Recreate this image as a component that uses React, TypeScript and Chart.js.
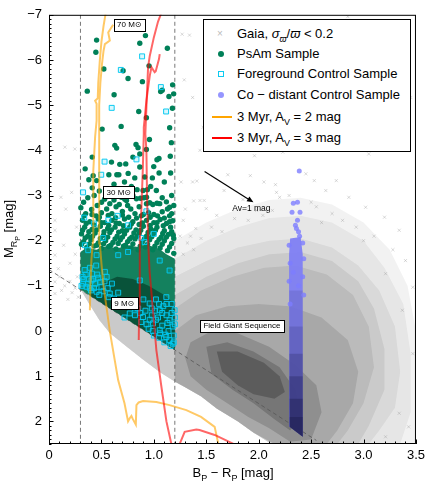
import React, { useEffect, useRef } from 'react';
import { Chart, registerables } from 'chart.js';
Chart.register(...registerables);

type P = [number, number];

const xTickValues = [0, 0.5, 1, 1.5, 2, 2.5, 3, 3.5];
const yTickValues = [-7, -6, -5, -4, -3, -2, -1, 0, 1, 2];

// Gaia field stars: nested density contours (outer -> core) plus sparse individual stars
const bandEdge: P[] = [[1.2,1.12],[1.06,0.92],[0.9,0.64],[0.74,0.35],[0.58,0.05],[0.48,-0.24],[0.39,-0.57],[0.3,-0.92],[1.2,0.42]];
const lowerEdge: P[] = [[2.12,2.5],[1.95,2.25],[1.8,2.0],[1.6,1.72],[1.45,1.45],[1.3,1.25]];
const gaiaLevel1: P[] = [[1.2,-2.0],[1.5,-2.4],[1.8,-2.7],[2.1,-2.9],[2.4,-2.95],[2.7,-2.8],[3.0,-2.4],[3.25,-1.8],[3.42,-1.0],[3.5,0],[3.5,2.5]];
const gaiaLevel2: P[] = [[1.2,-1.6],[1.5,-2.0],[1.8,-2.3],[2.1,-2.5],[2.4,-2.55],[2.7,-2.4],[3.0,-2.0],[3.2,-1.4],[3.38,-0.6],[3.45,0.5],[3.45,1.8],[3.35,2.5]];
const gaiaLevel3: P[] = [[1.2,-1.2],[1.5,-1.55],[1.8,-1.85],[2.1,-2.0],[2.4,-2.05],[2.7,-1.85],[2.95,-1.45],[3.15,-0.9],[3.3,-0.1],[3.35,0.9],[3.3,1.7],[3.15,2.2],[3.05,2.5]];
const gaiaLevel4: P[] = [[1.2,-0.8],[1.5,-1.2],[1.8,-1.5],[2.1,-1.7],[2.4,-1.75],[2.7,-1.55],[2.95,-1.1],[3.1,-0.5],[3.2,0.4],[3.2,1.3],[3.05,2.1],[2.95,2.5]];
const gaiaLevel5: P[] = [[1.2,-0.5],[1.45,-0.9],[1.75,-1.2],[2.05,-1.4],[2.35,-1.45],[2.65,-1.25],[2.9,-0.8],[3.05,-0.1],[3.1,0.8],[3.0,1.6],[2.85,2.2],[2.75,2.5],[2.15,2.5],[1.95,2.25],[1.8,2.0],[1.6,1.72],[1.45,1.45],[1.3,1.25],[1.2,1.12],[1.2,0.42]];
const gaiaLevel6: P[] = [[1.2,0.0],[1.4,-0.35],[1.7,-0.55],[2.0,-0.6],[2.3,-0.55],[2.6,-0.3],[2.85,0.2],[2.95,0.9],[2.9,1.6],[2.75,2.2],[2.65,2.5],[2.15,2.5],[1.95,2.25],[1.8,2.0],[1.6,1.72],[1.45,1.45],[1.3,1.25],[1.2,1.12]];
const gaiaLevel7: P[] = [[1.35,0.25],[1.55,0.0],[1.8,0.05],[2.1,0.35],[2.35,0.75],[2.55,1.2],[2.6,1.8],[2.5,2.4],[2.3,2.45],[2.1,2.15],[1.9,1.9],[1.7,1.6],[1.5,1.3],[1.35,1.0],[1.3,0.6]];
const gaiaLevel8: P[] = [[1.5,0.35],[1.7,0.25],[1.95,0.45],[2.2,0.8],[2.35,1.3],[2.4,1.9],[2.3,2.2],[2.15,1.95],[1.95,1.6],[1.75,1.3],[1.55,0.95]];
const gaiaLevel9: P[] = [[1.6,0.45],[1.8,0.45],[2.05,0.7],[2.2,1.0],[2.25,1.35],[2.15,1.5],[1.95,1.4],[1.8,1.2],[1.65,0.9]];
const gaiaSparse: P[] = [[0.114,-2.96],[0.216,-3.07],[0.16,-2.7],[0.057,-2.23],[0.263,-2.3],[0.152,-4.07],[0.247,-4.03],[0.057,-2.45],[0.057,-1.68],[0.057,-1.09],[0.057,-0.83],[0.089,-1.38],[0.1,-1.2],[0.15,-1.0],[0.2,-1.1],[0.22,-0.85],[0.25,-0.95],[0.18,-0.7],[0.12,-0.9],[0.27,-1.2],[0.2,-1.5],[0.25,-1.7],[0.14,-1.9],[0.28,-0.75],
[1.27,-6.57],[1.34,-6.55],[1.29,-5.56],[1.37,-5.17],[1.47,-4.51],[1.52,-4.35],[1.44,-4.0],[1.26,-3.3],[1.37,-3.3],[1.44,-2.89],[1.5,-2.71],[1.28,-2.45],[1.4,-2.27],[1.25,-2.1],[1.32,-1.95],[1.3,-2.7],[1.35,-2.1],[1.45,-2.05],[1.28,-1.7],[1.38,-1.8],
[1.96,-3.88],[2.23,-3.96],[3.05,-3.92],[2.85,-6.96],[3.45,-5.17],
[1.706,-3.46],[1.92,-3.44],[2.05,-3.3],[2.16,-3.24],[2.17,-3.07],[1.41,-3.32],[1.67,-3.11],[1.85,-2.91],[1.38,-2.88],[1.48,-2.89],[1.98,-2.67],[2.04,-2.56],[2.29,-3.0],[1.6,-2.56],[1.77,-2.49],[2.13,-2.67],
[2.45,-3.48],[2.53,-3.33],[2.64,-3.11],[2.74,-3.33],[2.86,-2.96],[3.02,-2.74],[3.2,-2.52],[3.34,-2.23],[2.93,-2.3],[3.4,-1.56],[3.21,-1.27],[3.47,-0.97],[3.37,-0.46],[3.47,0.5],[3.34,1.82],[3.43,2.12],[3.21,2.34],[2.2,-2.96],[2.55,-2.75],[2.7,-2.6],[3.1,-2.1],[3.28,-1.8],[2.5,-2.85],[1.55,-2.3],[1.65,-2.2],[1.9,-2.45],[2.6,-2.4],[2.8,-2.45],[3.0,-2.0]];

// PsAm sample: dense region polygons plus individual stars
const psamDense: P[] = [[0.3,-0.92],[0.3,-1.75],[0.36,-1.85],[0.45,-1.8],[0.55,-1.88],[0.65,-1.83],[0.75,-1.9],[0.85,-1.86],[0.95,-1.9],[1.05,-1.82],[1.12,-1.7],[1.2,-1.6],[1.2,0.42]];
const psamCore: P[] = [[0.38,-0.8],[0.5,-1.05],[0.65,-1.2],[0.8,-1.15],[0.95,-1.0],[1.1,-0.8],[1.2,-0.6],[1.2,0.42]];
const psamStars: P[] = [[0.454,-6.44],[0.447,-6.17],[0.523,-5.8],[0.365,-5.31],[0.621,-5.23],[0.507,-4.47],[0.688,-4.53],[0.628,-4.11],[0.645,-4.05],[0.412,-3.85],[0.596,-3.74],[0.345,-3.59],[0.675,-3.69],[0.732,-3.7],
[0.92,-6.54],[0.866,-6.37],[1.129,-6.26],[0.954,-5.87],[0.754,-5.59],[0.707,-5.76],[0.891,-5.52],[1.179,-5.45],[1.189,-5.25],[1.065,-5.3],[1.08,-5.33],[1.144,-5.19],[1.177,-4.93],[0.856,-4.86],[0.929,-4.72],[0.958,-4.24],[0.83,-4.13],[0.849,-4.06],[1.167,-4.17],[1.151,-4.5],[1.157,-3.87],[1.049,-3.82],[1.03,-3.79],[0.929,-4.02],[0.866,-3.92],[0.8,-3.85],[0.866,-3.63],[0.999,-3.64],
[0.421,-3.44],[0.454,-3.33],[0.571,-3.46],[0.647,-3.46],[0.913,-3.41],[0.938,-3.13],[0.897,-3.11],[0.84,-3.13],[0.872,-2.94],[0.675,-3.07],[0.786,-3.2],[0.723,-2.92],[0.666,-3.46],[0.755,-3.49],[0.818,-3.39],[0.986,-3.39],[0.412,-3.17],[0.431,-3.0],[0.501,-2.85],[0.834,-2.93],[0.905,-2.95],[0.93,-2.96],[1.024,-3.11],[1.056,-2.82],[1.151,-2.74],[0.739,-2.89],[0.69,-2.96],[0.93,-2.82],[0.96,-2.84],[0.99,-2.8],[1.03,-2.83],[1.12,-2.86],[1.19,-2.78],[0.406,-2.69],[0.304,-2.73],[0.55,-2.7],[0.6,-2.6],[0.64,-2.75],[0.7,-2.65],[0.78,-2.7],[0.82,-2.6],[0.88,-2.55],[0.95,-2.62],[1.0,-2.58],[1.08,-2.64],[1.15,-2.55],[0.35,-2.6],[0.45,-2.55],[0.5,-2.62],
[0.33,-2.85],[0.37,-2.95],[0.46,-2.78],[0.53,-2.92],[0.58,-2.82],[0.62,-2.9],[0.67,-2.8],[0.75,-2.78],[0.8,-3.0],[0.86,-2.75],[1.08,-2.95],[1.13,-2.7],[1.17,-3.0],[0.48,-3.1],[0.56,-3.15],[0.62,-3.25],[0.97,-3.2],[1.1,-3.3],[1.16,-3.5],[0.38,-3.35],[0.72,-3.3],[1.05,-3.5],
[0.335,-2.55],[0.41,-2.58],[0.48,-2.52],[0.565,-2.56],[0.635,-2.51],[0.7,-2.57],[0.76,-2.52],[0.835,-2.5],[0.9,-2.58],[0.965,-2.52],[1.035,-2.55],[1.1,-2.5],[1.17,-2.6],
[0.32,-2.45],[0.39,-2.42],[0.47,-2.48],[0.53,-2.4],[0.6,-2.45],[0.67,-2.38],[0.72,-2.48],[0.8,-2.42],[0.86,-2.36],[0.93,-2.45],[1.0,-2.4],[1.06,-2.47],[1.12,-2.38],[1.18,-2.44],
[0.355,-2.38],[0.43,-2.35],[0.5,-2.4],[0.57,-2.34],[0.64,-2.39],[0.71,-2.33],[0.785,-2.37],[0.89,-2.39],[0.965,-2.34],[1.03,-2.4],[1.09,-2.33],[1.15,-2.42],
[0.34,-2.3],[0.41,-2.25],[0.49,-2.32],[0.56,-2.27],[0.63,-2.3],[0.7,-2.22],[0.77,-2.3],[0.83,-2.24],[0.9,-2.32],[0.97,-2.26],[1.03,-2.3],[1.1,-2.22],[1.16,-2.3],
[0.32,-2.23],[0.38,-2.2],[0.455,-2.24],[0.525,-2.2],[0.595,-2.24],[0.665,-2.19],[0.74,-2.23],[0.81,-2.17],[0.875,-2.23],[0.945,-2.18],[1.015,-2.23],[1.085,-2.16],[1.17,-2.2],
[0.31,-2.15],[0.37,-2.1],[0.44,-2.17],[0.52,-2.12],[0.58,-2.18],[0.65,-2.1],[0.72,-2.15],[0.79,-2.08],[0.86,-2.16],[0.93,-2.1],[1.0,-2.16],[1.07,-2.08],[1.14,-2.14],[1.19,-2.05],
[0.345,-2.06],[0.415,-2.1],[0.49,-2.05],[0.56,-2.08],[0.63,-2.04],[0.7,-2.08],[0.77,-2.04],[0.84,-2.1],[0.91,-2.04],[0.98,-2.09],[1.05,-2.03],[1.12,-2.08],[1.185,-2.12],
[0.33,-1.98],[0.4,-2.02],[0.47,-1.95],[0.54,-2.0],[0.61,-1.96],[0.68,-2.02],[0.75,-1.98],[0.82,-2.04],[0.89,-1.97],[0.96,-2.02],[1.03,-1.96],[1.1,-2.0],[1.17,-1.94],
[0.31,-1.92],[0.385,-1.93],[0.455,-1.9],[0.52,-1.93],[0.59,-1.9],[0.66,-1.94],[0.73,-1.9],[0.8,-1.93],[0.87,-1.88],[0.94,-1.92],[1.01,-1.88],[1.08,-1.92],[1.15,-1.86],
[0.36,-1.85],[0.43,-1.88],[0.5,-1.83],[0.57,-1.87],[0.64,-1.82],[0.71,-1.88],[0.78,-1.84],[0.85,-1.8],[0.92,-1.86],[0.99,-1.8],[1.06,-1.84],[1.13,-1.78],[1.19,-1.72]];

// Foreground control sample
const foreground: P[] = [[0.888,-6.08],[0.685,-5.78],[0.598,-4.94],[1.067,-5.4],[1.117,-4.86],[0.834,-3.8],[0.53,-3.75],[0.498,-3.46],[0.325,-3.07],[0.336,-2.51],[0.428,-2.38],[0.566,-2.46],[0.655,-2.55],[0.754,-2.34],[0.517,-2.06],[0.929,-2.65],[1.0,-2.15],[0.88,-2.06],[0.342,-1.9],[0.374,-1.79],[0.913,-1.97],[0.454,-1.68],[0.66,-1.68],[0.754,-1.75],[1.056,-1.56],[1.15,-1.34],[0.866,-1.12],[0.533,-1.31],[0.406,-1.12],[0.326,-1.05],[0.454,-0.87],[0.58,-0.83],[0.707,-0.61],[0.77,-0.39],[0.897,-0.31],[0.992,-0.17],[1.056,-0.02],[1.119,0.13],[1.18,0.28],[1.15,-0.24],[1.056,-0.46],[0.96,-0.61],[1.198,-0.46],[1.119,-0.75],
[0.32,-1.2],[0.35,-1.25],[0.38,-1.15],[0.41,-1.27],[0.44,-1.05],[0.47,-1.18],[0.5,-0.98],[0.53,-1.1],[0.36,-0.98],[0.4,-0.9],[0.48,-0.8],[0.56,-0.95],[0.6,-1.05],[0.62,-0.72],[0.66,-0.85],[0.68,-0.6],
[0.31,-1.0],[0.33,-1.15],[0.37,-1.05],[0.39,-0.95],[0.42,-1.15],[0.43,-0.95],[0.46,-1.25],[0.49,-1.08],[0.52,-0.88],[0.55,-1.2],[0.57,-0.75],[0.34,-1.35],[0.39,-1.4],[0.45,-1.45],
[0.85,-0.5],[0.88,-0.2],[0.92,-0.45],[0.95,-0.05],[0.98,-0.35],[1.0,0.1],[1.02,-0.25],[1.05,0.15],[1.08,-0.12],[1.1,0.25],[1.12,-0.35],[1.14,0.0],[1.16,0.33],[1.18,-0.1],[1.19,0.1],[1.17,-0.6],[1.2,-0.3],[1.09,-0.55],[1.02,-0.7],[0.9,-0.7],[0.82,-0.35],[0.72,-0.3],
[0.93,-0.15],[0.96,-0.25],[0.99,0.0],[1.01,-0.45],[1.04,-0.3],[1.06,0.05],[1.08,-0.4],[1.11,0.08],[1.13,-0.18],[1.15,0.2],[1.17,-0.4],[1.19,0.25],[1.2,-0.15],[1.12,-0.6],[1.05,-0.6],[0.98,-0.5],[0.87,-0.4],[0.82,-0.5]];

// Co-distant control sample: column of overlapping stars (darkening downwards) plus outliers
const codistantColumn: P[] = [[2.3,-2.05],[2.4,-2.08],[2.42,-1.7],[2.42,2.34],[2.295,2.12],[2.29,-1.7]];
const codistantShade1: P[] = [[2.292,-0.9],[2.42,-0.9],[2.42,2.34],[2.295,2.12]];
const codistantShade2: P[] = [[2.292,-0.1],[2.42,-0.1],[2.42,2.34],[2.295,2.12]];
const codistantShade3: P[] = [[2.292,0.5],[2.42,0.5],[2.42,2.34],[2.295,2.12]];
const codistantShade4: P[] = [[2.292,1.0],[2.42,1.0],[2.42,2.34],[2.295,2.12]];
const codistantShade5: P[] = [[2.295,1.5],[2.42,1.5],[2.42,2.34],[2.295,2.12]];
const codistantShade6: P[] = [[2.295,1.9],[2.42,1.9],[2.42,2.34],[2.295,2.12]];
const codistantStars: P[] = [[2.387,-3.54],[2.33,-2.83],[2.37,-2.85],[2.318,-2.63],[2.394,-2.63],[2.37,-2.45],[2.35,-2.34],[2.38,-2.2],[2.36,-2.27],[2.39,-2.1],[2.29,-1.9],[2.3,-1.5],[2.29,-1.1],[2.3,-0.6],[2.42,-1.95],[2.43,-1.6],[2.42,-1.2],[2.43,-0.8],[2.38,-1.0],[2.33,-1.3]];

// 3 Myr isochrones
const isoAv2Main: P[] = [[1.62,2.55],[1.58,2.12],[1.45,1.9],[1.31,1.75],[1.15,1.64],[1.024,1.57],[0.897,1.55],[0.855,1.58],[0.834,1.64],[0.828,2.07],[0.8,1.95],[0.786,1.88],[0.77,1.93],[0.754,2.0],[0.72,1.6],[0.66,1.09],[0.62,0.55],[0.58,0.0],[0.55,-0.5],[0.52,-1.0],[0.5,-1.5],[0.485,-1.94],[0.478,-2.5],[0.478,-3.55],[0.479,-4.66],[0.48,-5.0],[0.49,-5.5],[0.505,-5.9],[0.52,-6.2],[0.533,-6.35],[0.58,-6.43],[0.565,-6.61],[0.612,-6.78]];
const isoAv2Branch: P[] = [[0.39,-0.46],[0.395,-1.0],[0.405,-1.6],[0.42,-2.0],[0.42,-3.0],[0.425,-3.55],[0.44,-4.3],[0.454,-4.66],[0.454,-5.03],[0.44,-5.1],[0.465,-5.15],[0.47,-5.5],[0.485,-6.0],[0.5,-6.4],[0.52,-6.75],[0.545,-7.1]];
const isoAv3Main: P[] = [[1.78,2.55],[1.753,2.49],[1.58,2.3],[1.436,2.19],[1.405,2.18],[1.294,2.23],[1.246,2.5],[1.22,2.7],[1.19,2.7],[1.167,2.5],[1.12,2.0],[1.07,1.2],[1.024,0.42],[0.99,-0.5],[0.96,-1.3],[0.945,-2.0],[0.935,-3.0],[0.929,-4.0],[0.919,-4.36],[0.929,-4.95],[0.945,-5.84],[0.961,-6.09],[1.0,-6.5],[1.04,-6.85],[1.065,-7.0],[1.08,-7.2]];
const isoAv3Branch: P[] = [[0.856,0.2],[0.86,-0.5],[0.866,-1.2],[0.866,-2.0],[0.882,-2.74],[0.895,-3.6],[0.904,-4.36],[0.904,-4.51],[0.929,-5.1],[0.961,-5.65],[0.977,-5.84],[1.008,-5.73],[1.018,-5.75],[1.049,-6.02],[1.056,-6.13]];

// Selection cuts and giant sequence boundary
const cutLeft: P[] = [[0.3, -7], [0.3, 2.5]];
const cutRight: P[] = [[1.2, -7], [1.2, 2.5]];
const giantBoundary: P[] = [[0, -1.36], [2.55, 2.42]];

// Annotations
const boxLabels = ['70 M\u2299', '30 M\u2299', '9 M\u2299', 'Field Giant Sequence'];
const boxX = [0.766, 0.666, 0.718, 1.84];
const boxY = [-6.78, -3.08, -0.615, -0.118];
const arrowFrom: P = [1.484, -3.53];
const arrowTo: P = [1.95, -2.85];
const arrowLabel = 'Av=1 mag';
const arrowLabelPos: P = [1.93, -2.71];

const xy = (a: P[]) => a.map(([x, y]) => ({ x, y }));
const FONT = '"Liberation Sans", "DejaVu Sans", sans-serif';

const poly = (d: P[], color: string, order: number) => ({
  type: 'line', data: xy(d), showLine: true, fill: 'shape', backgroundColor: color,
  borderColor: 'rgba(0,0,0,0)', borderWidth: 0, pointRadius: 0, tension: 0, order,
});
const line = (d: P[], color: string, order: number, width = 2, dash: number[] = []) => ({
  type: 'line', data: xy(d), showLine: true, fill: false, borderColor: color, borderWidth: width,
  borderDash: dash, pointRadius: 0, tension: 0, order, clip: 0,
});

const decor = {
  id: 'decor',
  afterDatasetsDraw(chart: any) {
    const { ctx, chartArea: ca, scales } = chart;
    const xs = scales.x, ys = scales.y;
    ctx.save();
    const ax0 = xs.getPixelForValue(arrowFrom[0]), ay0 = ys.getPixelForValue(arrowFrom[1]);
    const ax1 = xs.getPixelForValue(arrowTo[0]), ay1 = ys.getPixelForValue(arrowTo[1]);
    const ang = Math.atan2(ay1 - ay0, ax1 - ax0);
    ctx.strokeStyle = '#000'; ctx.fillStyle = '#000'; ctx.lineWidth = 1.2;
    ctx.beginPath(); ctx.moveTo(ax0, ay0); ctx.lineTo(ax1 - 4 * Math.cos(ang), ay1 - 4 * Math.sin(ang)); ctx.stroke();
    ctx.beginPath(); ctx.moveTo(ax1, ay1);
    ctx.lineTo(ax1 - 7 * Math.cos(ang - 0.4), ay1 - 7 * Math.sin(ang - 0.4));
    ctx.lineTo(ax1 - 7 * Math.cos(ang + 0.4), ay1 - 7 * Math.sin(ang + 0.4));
    ctx.closePath(); ctx.fill();
    ctx.font = '8.5px ' + FONT; ctx.textAlign = 'center'; ctx.textBaseline = 'middle';
    ctx.fillText(arrowLabel, xs.getPixelForValue(arrowLabelPos[0]), ys.getPixelForValue(arrowLabelPos[1]));
    ctx.font = '8px ' + FONT;
    boxLabels.forEach((t, i) => {
      const cx = xs.getPixelForValue(boxX[i]), cy = ys.getPixelForValue(boxY[i]);
      const w = Math.round(ctx.measureText(t).width + 7), h = 12;
      const l = Math.round(cx - w / 2) + 0.5, tp = Math.round(cy - h / 2) + 0.5;
      ctx.fillStyle = '#fff'; ctx.fillRect(l, tp, w, h);
      ctx.strokeStyle = '#000'; ctx.lineWidth = 1; ctx.strokeRect(l, tp, w, h);
      ctx.fillStyle = '#000'; ctx.fillText(t, cx, cy + 0.5);
    });
    ctx.strokeStyle = '#000'; ctx.lineWidth = 1;
    ctx.strokeRect(ca.left + 0.5, ca.top + 0.5, ca.right - ca.left - 1, ca.bottom - ca.top - 1);
    ctx.beginPath();
    for (let i = 0; i <= 35; i++) {
      const px = Math.round(xs.getPixelForValue(i / 10)) + 0.5;
      const len = i % 5 === 0 ? 4.5 : 2.5;
      ctx.moveTo(px, ca.bottom); ctx.lineTo(px, ca.bottom - len);
    }
    for (let i = -70; i <= 25; i++) {
      const py = Math.round(ys.getPixelForValue(i / 10)) + 0.5;
      const len = i % 10 === 0 ? 4.5 : 2.5;
      ctx.moveTo(ca.left, py); ctx.lineTo(ca.left + len, py);
    }
    ctx.stroke();
    ctx.restore();
  },
};

const GREEN = 'rgb(0,128,88)';
const CYAN = 'rgba(0,200,240,0.95)';

export default function App() {
  const ref = useRef<HTMLCanvasElement>(null);
  useEffect(() => {
    if (!ref.current) return;
    const withBand = (top: P[]) => [...top, ...lowerEdge, ...bandEdge];
    const shade = (a: number) => 'rgba(15,15,60,' + a + ')';
    const datasets: any[] = [
      poly(withBand(gaiaLevel1), 'rgba(0,0,0,0.05)', 200),
      poly(withBand(gaiaLevel2), 'rgba(0,0,0,0.05)', 199),
      poly(withBand(gaiaLevel3), 'rgba(0,0,0,0.06)', 198),
      poly(withBand(gaiaLevel4), 'rgba(0,0,0,0.07)', 197),
      poly(gaiaLevel5, 'rgba(0,0,0,0.08)', 196),
      poly(gaiaLevel6, 'rgba(0,0,0,0.10)', 195),
      poly(gaiaLevel7, 'rgba(0,0,0,0.15)', 194),
      poly(gaiaLevel8, 'rgba(0,0,0,0.18)', 193),
      poly(gaiaLevel9, 'rgba(0,0,0,0.22)', 192),
      { type: 'scatter', data: xy(gaiaSparse), pointStyle: 'crossRot', pointRadius: 2.2, borderColor: 'rgba(150,150,150,0.35)', borderWidth: 1, backgroundColor: 'rgba(0,0,0,0)', order: 190 },
      line(cutLeft, '#555', 150, 0.8, [4, 3]),
      line(cutRight, '#555', 150, 0.8, [4, 3]),
      line(giantBoundary, '#555', 150, 0.8, [4, 3]),
      poly(psamDense, 'rgba(0,118,80,0.92)', 99),
      poly(psamCore, 'rgba(0,45,30,0.55)', 98),
      { type: 'scatter', data: xy(psamStars), pointStyle: 'circle', pointRadius: 2.7, backgroundColor: GREEN, borderWidth: 0, order: 90 },
      { type: 'scatter', data: xy(foreground), pointStyle: 'rect', pointRadius: 3.5, backgroundColor: 'rgba(0,200,240,0.15)', borderColor: CYAN, borderWidth: 1, order: 80 },
      poly(codistantColumn, 'rgba(125,125,245,0.92)', 70),
      poly(codistantShade1, shade(0.12), 69),
      poly(codistantShade2, shade(0.15), 68),
      poly(codistantShade3, shade(0.2), 67),
      poly(codistantShade4, shade(0.25), 66),
      poly(codistantShade5, shade(0.3), 65),
      poly(codistantShade6, shade(0.3), 64),
      { type: 'scatter', data: xy(codistantStars), pointStyle: 'circle', pointRadius: 2.5, backgroundColor: 'rgba(125,125,255,0.8)', borderWidth: 0, order: 60 },
      line(isoAv2Main, 'rgba(255,165,0,0.6)', 10),
      line(isoAv2Branch, 'rgba(255,165,0,0.6)', 10),
      line(isoAv3Main, 'rgba(255,0,0,0.6)', 9),
      line(isoAv3Branch, 'rgba(255,0,0,0.6)', 9),
    ];
    const tickFont = { family: FONT, size: 13 };
    const chart = new Chart(ref.current, {
      type: 'scatter',
      data: { datasets },
      options: {
        animation: false, responsive: false, maintainAspectRatio: false, events: [],
        layout: { padding: { left: 0, right: 12, top: 14, bottom: 0 } },
        plugins: { legend: { display: false }, tooltip: { enabled: false } },
        scales: {
          x: {
            type: 'linear', min: 0, max: 3.5,
            grid: { display: false, drawTicks: false }, border: { display: false },
            ticks: { font: tickFont, color: '#000', padding: 4, maxRotation: 0, autoSkip: false,
              callback: (v: any) => (v === 0 ? '0' : Number(v).toFixed(1)) },
            afterBuildTicks: (s: any) => { s.ticks = xTickValues.map((value) => ({ value })); },
            afterFit: (s: any) => { s.height = 45; },
          },
          y: {
            type: 'linear', min: -7, max: 2.5, reverse: true,
            grid: { display: false, drawTicks: false }, border: { display: false },
            ticks: { font: tickFont, color: '#000', padding: 7, autoSkip: false,
              callback: (v: any) => (v < 0 ? '\u2212' + Math.abs(v) : String(v)) },
            afterBuildTicks: (s: any) => { s.ticks = yTickValues.map((value) => ({ value })); },
            afterFit: (s: any) => { s.width = 49; },
          },
        },
      } as any,
      plugins: [decor],
    } as any);
    return () => chart.destroy();
  }, []);

  const rowTop = [14, 34, 54, 75, 97, 118];
  const text: React.CSSProperties = { position: 'absolute', left: 33, fontSize: 13, lineHeight: '16px', whiteSpace: 'nowrap', color: '#000' };
  return (
    <div style={{ position: 'absolute', left: 0, top: 0, width: 429, height: 489, fontFamily: FONT, background: '#fff' }}>
      <canvas ref={ref} width={429} height={489} style={{ display: 'block', width: 429, height: 489 }} />
      <div style={{ position: 'absolute', left: 203, top: 19, width: 208, height: 133, boxSizing: 'border-box', border: '1px solid #000', background: '#fff' }}>
        <span style={{ position: 'absolute', left: 13, top: rowTop[0] - 7, fontSize: 10, lineHeight: '14px', color: '#bbb' }}>×</span>
        <div style={{ position: 'absolute', left: 14, top: rowTop[1] - 3, width: 6, height: 6, borderRadius: 3, background: GREEN }} />
        <div style={{ position: 'absolute', left: 14, top: rowTop[2] - 3, width: 6, height: 6, boxSizing: 'border-box', border: '1.3px solid ' + CYAN }} />
        <div style={{ position: 'absolute', left: 14, top: rowTop[3] - 3, width: 6, height: 6, borderRadius: 3, background: 'rgba(130,130,255,0.85)' }} />
        <div style={{ position: 'absolute', left: 8, top: rowTop[4] - 1, width: 20, height: 2, background: 'rgb(255,165,0)' }} />
        <div style={{ position: 'absolute', left: 8, top: rowTop[5] - 1, width: 20, height: 2, background: 'rgb(255,0,0)' }} />
        <div style={{ ...text, top: rowTop[0] - 8 }}>Gaia, <i>σ</i><sub style={{ fontSize: 9 }}><i>ϖ</i></sub>/<i>ϖ</i> &lt; 0.2</div>
        <div style={{ ...text, top: rowTop[1] - 8 }}>PsAm Sample</div>
        <div style={{ ...text, top: rowTop[2] - 8 }}>Foreground Control Sample</div>
        <div style={{ ...text, top: rowTop[3] - 8 }}>Co − distant Control Sample</div>
        <div style={{ ...text, top: rowTop[4] - 8 }}>3 Myr, A<sub style={{ fontSize: 9 }}>V</sub> = 2 mag</div>
        <div style={{ ...text, top: rowTop[5] - 8 }}>3 Myr, A<sub style={{ fontSize: 9 }}>V</sub> = 3 mag</div>
      </div>
      <div style={{ position: 'absolute', left: 133, top: 465, width: 200, textAlign: 'center', fontSize: 13, lineHeight: '16px', whiteSpace: 'nowrap' }}>
        B<sub style={{ fontSize: 9 }}>P</sub> − R<sub style={{ fontSize: 9 }}>P</sub> [mag]
      </div>
      <div style={{ position: 'absolute', left: 9 - 100, top: 229 - 8, width: 200, height: 16, textAlign: 'center', fontSize: 13, lineHeight: '16px', whiteSpace: 'nowrap', transform: 'rotate(-90deg)', transformOrigin: '50% 50%' }}>
        M<sub style={{ fontSize: 9 }}>R<sub style={{ fontSize: 7 }}>P</sub></sub> [mag]
      </div>
    </div>
  );
}
